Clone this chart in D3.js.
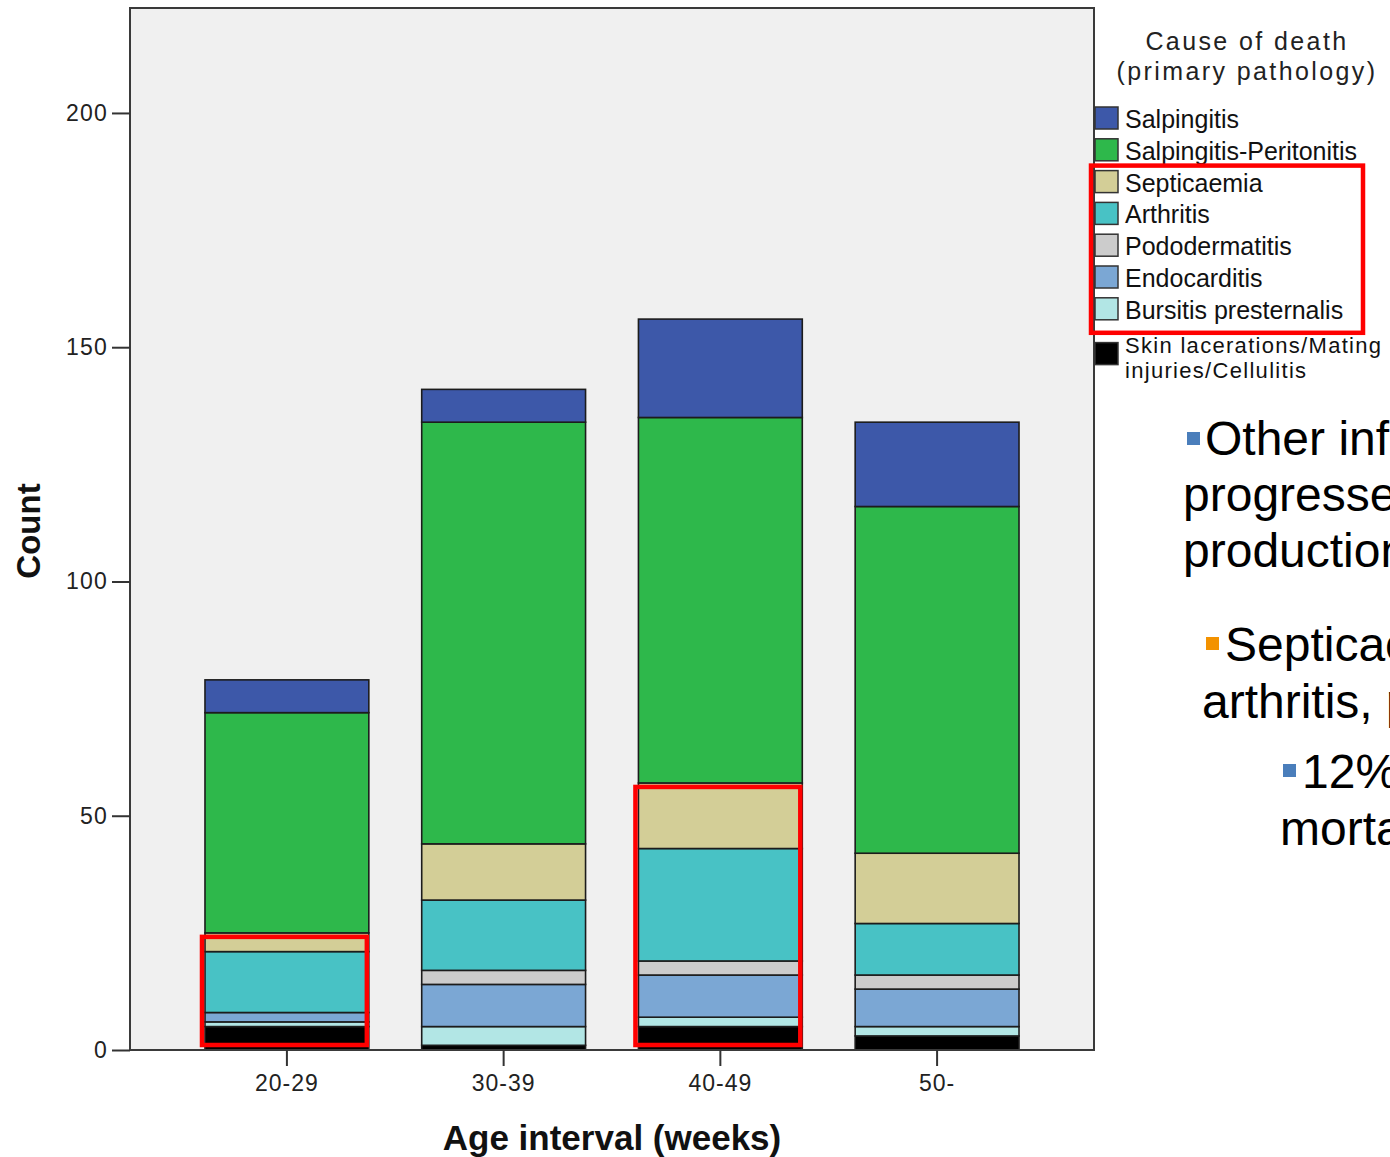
<!DOCTYPE html>
<html>
<head>
<meta charset="utf-8">
<script src="https://cdn.jsdelivr.net/npm/d3@7"></script>
<style>
  html, body { margin: 0; padding: 0; background: #ffffff; overflow: hidden; }
  svg { display: block; }
</style>
</head>
<body>
<svg id="chart" width="1390" height="1157"></svg>
<script>
// ---- Data ----
const categories = ["20-29", "30-39", "40-49", "50-"];
const seriesNames = [
  "Skin lacerations/Mating injuries/Cellulitis",
  "Bursitis presternalis",
  "Endocarditis",
  "Pododermatitis",
  "Arthritis",
  "Septicaemia",
  "Salpingitis-Peritonitis",
  "Salpingitis"
];
const skinLacerations = [5, 1, 5, 3];
const bursitis        = [1, 4, 2, 2];
const endocarditis    = [2, 9, 9, 8];
const pododermatitis  = [0, 3, 3, 3];
const arthritis       = [13, 15, 24, 11];
const septicaemia     = [4, 12, 14, 15];
const salpPeritonitis = [47, 90, 78, 74];
const salpingitis     = [7, 7, 21, 18];
const yTicks = [0, 50, 100, 150, 200];
const legendOrder = ["Salpingitis", "Salpingitis-Peritonitis", "Septicaemia", "Arthritis",
  "Pododermatitis", "Endocarditis", "Bursitis presternalis",
  "Skin lacerations/Mating injuries/Cellulitis"];
const legendLines = {
  "Skin lacerations/Mating injuries/Cellulitis": ["Skin lacerations/Mating", "injuries/Cellulitis"]
};
const colors = {
  "Salpingitis": "#3d58a9",
  "Salpingitis-Peritonitis": "#2eb84b",
  "Septicaemia": "#d3ce97",
  "Arthritis": "#48c2c5",
  "Pododermatitis": "#cccccc",
  "Endocarditis": "#7ba7d4",
  "Bursitis presternalis": "#b2e6e5",
  "Skin lacerations/Mating injuries/Cellulitis": "#000000"
};
const highlightedBars = ["20-29", "40-49"];
const highlightedTop = "Septicaemia";
const highlightedLegend = ["Septicaemia", "Bursitis presternalis"];
const sideText = [
  { bullet: "#4a7ebb", lines: ["Other infections", "progressed", "production"] },
  { bullet: "#f39200", lines: ["Septicaemia,", "arthritis, pododermatitis"] },
  { bullet: "#4a7ebb", lines: ["12% of", "mortality"] }
];

// ---- Build table ----
const seriesValues = [skinLacerations, bursitis, endocarditis, pododermatitis,
  arthritis, septicaemia, salpPeritonitis, salpingitis];
const table = categories.map((c, i) => {
  const row = { cat: c };
  seriesNames.forEach((s, k) => row[s] = seriesValues[k][i]);
  return row;
});
const stacked = d3.stack().keys(seriesNames)(table);

const svg = d3.select("#chart");
const plot = { left: 130, right: 1094, top: 8, bottom: 1050 };

const x = d3.scaleBand().domain(categories).range([plot.left, plot.right])
  .paddingInner(0.244).paddingOuter(0.346);
const y = d3.scaleLinear().domain([0, 222.4]).range([plot.bottom, plot.top]);

// plot background
svg.append("rect")
  .attr("x", plot.left).attr("y", plot.top)
  .attr("width", plot.right - plot.left).attr("height", plot.bottom - plot.top)
  .attr("fill", "#f0f0f0");

// bars
const layers = svg.append("g").selectAll("g").data(stacked).join("g")
  .attr("fill", d => colors[d.key]);
layers.selectAll("rect").data(d => d).join("rect")
  .attr("x", d => x(d.data.cat))
  .attr("y", d => y(d[1]))
  .attr("width", x.bandwidth())
  .attr("height", d => y(d[0]) - y(d[1]))
  .attr("stroke", "#1c1c1c")
  .attr("stroke-width", d => (d[1] - d[0]) > 0 ? 1.6 : 0);

// frame
svg.append("rect")
  .attr("x", plot.left).attr("y", plot.top)
  .attr("width", plot.right - plot.left).attr("height", plot.bottom - plot.top)
  .attr("fill", "none").attr("stroke", "#3a3a3a").attr("stroke-width", 2);

// y axis
const yAxis = svg.append("g").attr("transform", `translate(${plot.left},0)`)
  .call(d3.axisLeft(y).tickValues(yTicks).tickSize(18).tickPadding(4));
yAxis.select(".domain").remove();
yAxis.selectAll("line").attr("stroke", "#333").attr("stroke-width", 2);
yAxis.selectAll("text").attr("font-family", "'Liberation Sans', Arial, sans-serif")
  .attr("font-size", 23).attr("letter-spacing", 1.2).attr("fill", "#222");

// x axis
const xAxis = svg.append("g").attr("transform", `translate(0,${plot.bottom})`)
  .call(d3.axisBottom(x).tickSize(16).tickPadding(9));
xAxis.select(".domain").remove();
xAxis.selectAll("line").attr("stroke", "#333").attr("stroke-width", 2);
xAxis.selectAll("text").attr("font-family", "'Liberation Sans', Arial, sans-serif")
  .attr("font-size", 23).attr("letter-spacing", 1).attr("fill", "#222");

// axis titles
svg.append("text")
  .attr("transform", `translate(40,${(plot.top + plot.bottom) / 2 + 2}) rotate(-90)`)
  .attr("text-anchor", "middle")
  .attr("font-family", "'Liberation Sans', Arial, sans-serif")
  .attr("font-weight", "bold").attr("font-size", 33).attr("fill", "#111")
  .text("Count");
svg.append("text")
  .attr("x", (plot.left + plot.right) / 2).attr("y", 1150)
  .attr("text-anchor", "middle")
  .attr("font-family", "'Liberation Sans', Arial, sans-serif")
  .attr("font-weight", "bold").attr("font-size", 35).attr("fill", "#111")
  .text("Age interval (weeks)");

// legend
const lg = svg.append("g");
const legX = 1095, legY0 = 107, legStep = 31.8, sw = 23, sh = 22;
lg.append("text").attr("x", 1247).attr("y", 50).attr("text-anchor", "middle")
  .attr("font-family", "'Liberation Sans', Arial, sans-serif").attr("font-size", 25)
  .attr("letter-spacing", 2.4).attr("fill", "#222").text("Cause of death");
lg.append("text").attr("x", 1247).attr("y", 80).attr("text-anchor", "middle")
  .attr("font-family", "'Liberation Sans', Arial, sans-serif").attr("font-size", 25)
  .attr("letter-spacing", 2.4).attr("fill", "#222").text("(primary pathology)");
legendOrder.forEach((name, i) => {
  const isMulti = !!legendLines[name];
  const ty = legY0 + i * legStep + (isMulti ? 13 : 0);
  lg.append("rect").attr("x", legX).attr("y", ty).attr("width", sw).attr("height", sh)
    .attr("fill", colors[name]).attr("stroke", "#333").attr("stroke-width", 1.5);
  const lines = legendLines[name] || [name];
  lines.forEach((ln, j) => {
    lg.append("text").attr("x", legX + sw + 7)
      .attr("y", isMulti ? (ty + 10 + j * 25) : ty + sh / 2 + 1)
      .attr("dominant-baseline", isMulti ? "auto" : "central")
      .attr("font-family", "'Liberation Sans', Arial, sans-serif")
      .attr("letter-spacing", isMulti ? 1.3 : 0)
      .attr("font-size", isMulti ? 22 : 25).attr("fill", "#111").text(ln);
  });
});

// red highlight boxes on bars
highlightedBars.forEach(cat => {
  const idx = categories.indexOf(cat);
  const layerIdx = seriesNames.indexOf(highlightedTop);
  const top = stacked[layerIdx][idx][1];
  const x0 = x(cat) - 3;
  svg.append("rect")
    .attr("x", x0).attr("y", y(top) + 4)
    .attr("width", x.bandwidth() + 1)
    .attr("height", (y(0) - 5) - (y(top) + 4))
    .attr("fill", "none").attr("stroke", "#ff0000").attr("stroke-width", 4.5);
});
// red box on legend
{
  const i0 = legendOrder.indexOf(highlightedLegend[0]);
  const i1 = legendOrder.indexOf(highlightedLegend[1]);
  const top = legY0 + i0 * legStep - 5;
  const bottom = legY0 + i1 * legStep + sh + 13;
  svg.append("rect").attr("x", 1091).attr("y", top)
    .attr("width", 1363 - 1091).attr("height", bottom - top)
    .attr("fill", "none").attr("stroke", "#ff0000").attr("stroke-width", 4.5);
}

// side text (slide content, clipped at right edge as in the reference)
const side = svg.append("g").attr("font-family", "'Liberation Sans', Arial, sans-serif")
  .attr("font-size", 48).attr("fill", "#000");
const blocks = [
  { bx: 1187, by: 432, tx: 1205, lx: 1183, base: 455, step: 56 },
  { bx: 1206, by: 637, tx: 1225, lx: 1202, base: 661, step: 57 },
  { bx: 1283, by: 764, tx: 1302, lx: 1280, base: 788, step: 57 }
];
sideText.forEach((b, i) => {
  const p = blocks[i];
  side.append("rect").attr("x", p.bx).attr("y", p.by).attr("width", 13).attr("height", 13)
    .attr("fill", b.bullet);
  b.lines.forEach((ln, j) => {
    side.append("text").attr("x", j === 0 ? p.tx : p.lx).attr("y", p.base + j * p.step).text(ln);
  });
});
</script>
</body>
</html>
